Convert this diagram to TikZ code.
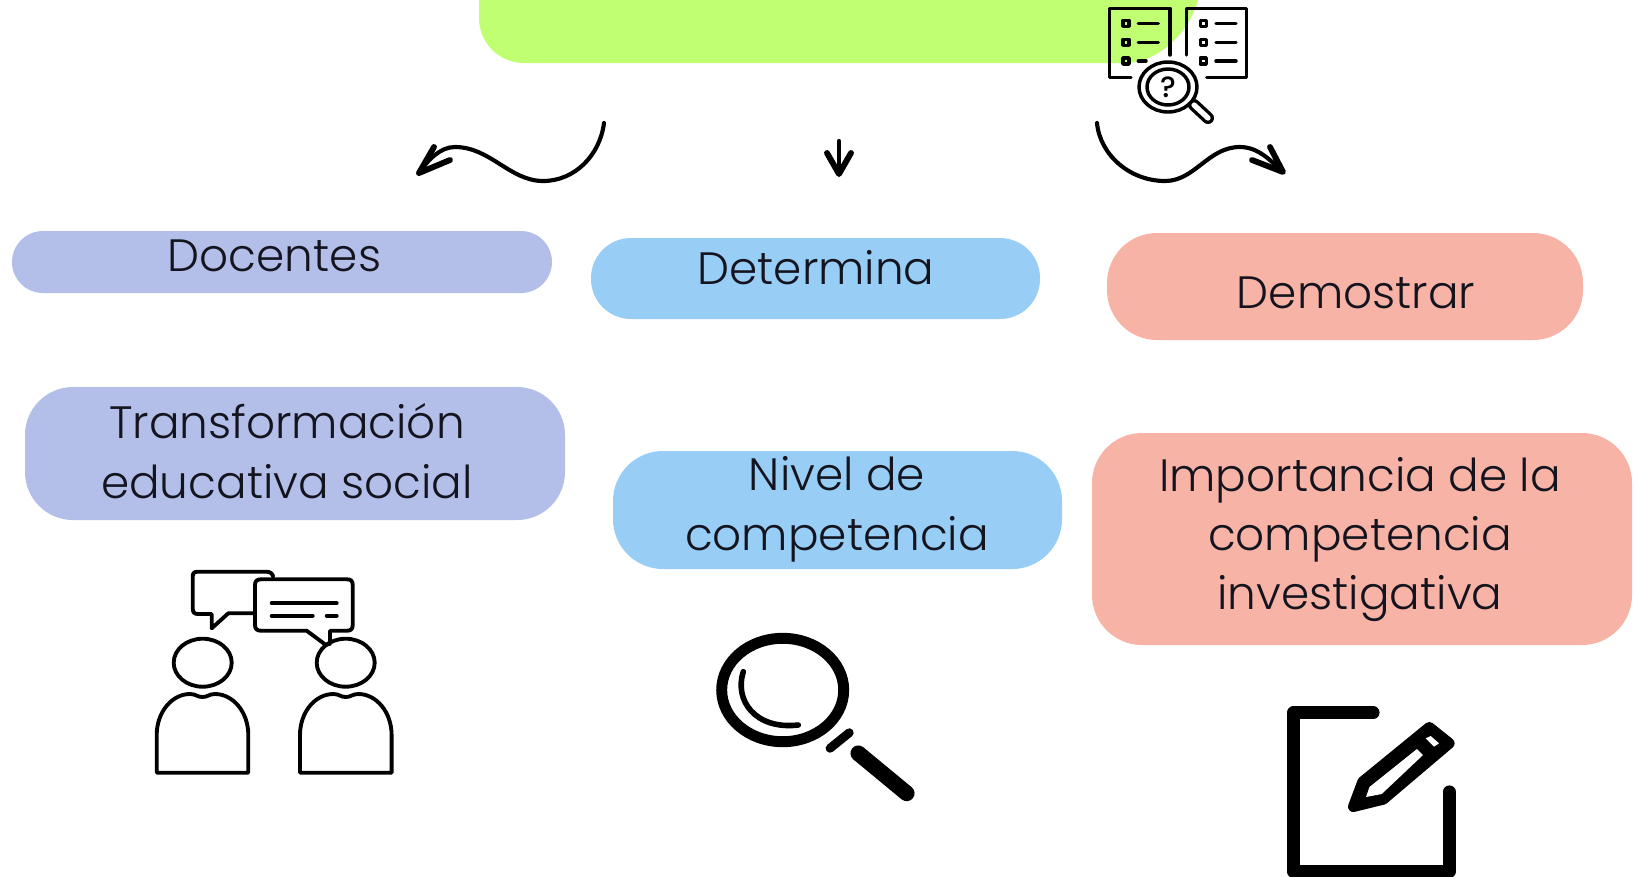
\documentclass[tikz,border=0pt]{standalone}
\usepackage{fontspec}
\setmainfont{Poppins}[UprightFont=* Light,BoldFont=* Medium]
\definecolor{limeC}{HTML}{C1FF72}
\definecolor{lilacC}{HTML}{B3BFE9}
\definecolor{skyC}{HTML}{98CDF5}
\definecolor{salmonC}{HTML}{F8B3A7}
\definecolor{inkC}{HTML}{14141F}
\tikzset{
  pill/.style n args={3}{inner sep=0pt,rounded corners=#3*0.75pt,minimum width=#1*0.75pt,minimum height=#2*0.75pt,draw=none},
  lbl/.style={anchor=base,inner sep=0pt,text=inkC,font=\fontsize{34}{34}\selectfont},
  squiggle/.style={line width=3.1pt,line cap=round,line join=round,black},
  tipstroke/.style={line width=4.4pt,line cap=round,line join=round,black},
  icon/.style={line width=2.9pt,line cap=round,line join=round,black},
  iconthin/.style={line width=2.6pt,line cap=round,line join=round,black},
  heavy/.style={line width=9.4pt,line cap=round,line join=round,black},
}
\begin{document}
\begin{tikzpicture}[x=0.75pt,y=-0.75pt]
\useasboundingbox (0,0) rectangle (1636,876);
\clip (0,0) rectangle (1636,876);
\fill[white] (0,0) rectangle (1636,876);
% top box
\fill[limeC] (479,-40) -- (479,18) .. controls (479,43) and (499,63) .. (524,63) -- (1125,63) .. controls (1160,63) and (1190,30) .. (1198,0) -- (1198,-40) -- cycle;
% boxes
\node[pill={540}{62}{31},fill=lilacC] (bdoc) at (282,262) {};
\node[pill={449}{81}{40},fill=skyC] (bdet) at (815.5,278.5) {};
\node[pill={476}{107}{50},fill=salmonC] (bdem) at (1345,286.5) {};
\node[pill={540}{133}{48},fill=lilacC] (btra) at (295,453.5) {};
\node[pill={449}{118}{50},fill=skyC] (bniv) at (837.5,510) {};
\node[pill={540}{212}{50},fill=salmonC] (bimp) at (1362,539) {};
% labels
\node[lbl] (t1) at (274.5,271) {Docentes};
\node[lbl] (t2) at (816,284) {Determina};
\node[lbl] (t3) at (1356,308) {Demostrar};
\node[lbl] (t4) at (287,438) {Transformación};
\node[lbl] (t5) at (287,498) {educativa social};
\node[lbl] (t6) at (837,490) {Nivel de};
\node[lbl] (t7) at (837,550) {competencia};
\node[lbl] (t8) at (1360,491) {Importancia de la};
\node[lbl] (t9) at (1360,550) {competencia};
\node[lbl] (t10) at (1360,609) {investigativa};
% arrows
\coordinate (las) at (604,123); \coordinate (lat) at (419,173);
\coordinate (cas) at (839,141); \coordinate (cat) at (839,174);
\coordinate (ras) at (1097,123); \coordinate (rat) at (1283,172);
\draw[squiggle] (las) .. controls (600,155) and (575,181) .. (543,181) .. controls (510,181) and (490,147) .. (455,147) .. controls (440,147) and (428,160) .. (lat);
\draw[tipstroke] (434,147) -- (lat) -- (450,160);
\draw[squiggle] (cas) -- (cat);
\draw[tipstroke] (827,153) -- (cat) -- (851,153);
\draw[squiggle] (ras) .. controls (1100,155) and (1130,181) .. (1165,181) .. controls (1195,181) and (1208,147) .. (1240,147) .. controls (1258,147) and (1270,160) .. (rat);
\draw[tipstroke] (1270,147) -- (rat) -- (1252,160);
% checklist icon
\draw[iconthin] (1131,77.3) -- (1109.3,77.3) -- (1109.3,8.3) -- (1170,8.3) -- (1170,55);
\draw[iconthin] (1186.7,55) -- (1186.7,8.3) -- (1246.7,8.3) -- (1246.7,77.3) -- (1206.7,77.3);
\foreach \yy in {23.3,42.3,61}{
  \draw[iconthin] (1123,\yy-3) rectangle (1129,\yy+3);
  \draw[iconthin] (1200.3,\yy-3) rectangle (1206.3,\yy+3);
  \draw[iconthin] (1216,\yy) -- (1236,\yy);
}
\draw[iconthin] (1138.3,23.3) -- (1158.3,23.3);
\draw[iconthin] (1138.3,42.3) -- (1158.3,42.3);
\draw[iconthin] (1138.3,61) -- (1146,61);
\draw[line width=9pt,line cap=round,black] (1194,105) -- (1208,118);
\draw[line width=4pt,line cap=round,white] (1194,105) -- (1208,118);
\draw[iconthin,fill=white] (1168,87) ellipse [x radius=29,y radius=25];
\draw[iconthin] (1168,87) ellipse [x radius=21,y radius=18];
\node[inner sep=0pt,text=black,font=\fontsize{22}{22}\selectfont\bfseries] (qm) at (1168,87) {?};
% people icon
\draw[icon] (253.3,613.3) -- (228.3,613.3) -- (211.7,628.3) -- (211.7,614) -- (198,614) .. controls (194,614) and (192.7,612) .. (192.7,608) -- (192.7,577) .. controls (192.7,573) and (194,571.7) .. (198,571.7) -- (266,571.7) .. controls (270,571.7) and (272,573) .. (273.3,576.7);
\draw[icon] (261,579.3) -- (347,579.3) .. controls (351,579.3) and (352.7,581) .. (352.7,585) -- (352.7,625) .. controls (352.7,629) and (351,630.7) .. (347,630.7) -- (330,630.7) -- (330,644) -- (325,644.3) -- (306.7,630.7) -- (261,630.7) .. controls (257,630.7) and (255,629) .. (255,625) -- (255,585) .. controls (255,581) and (257,579.3) .. (261,579.3) -- cycle;
\draw[icon] (271.7,603.3) -- (336.7,603.3);
\draw[icon] (271.7,615.7) -- (312.7,615.7);
\draw[icon] (326.7,615.7) -- (336.7,615.7);
\draw[icon] (202.7,662.7) ellipse [x radius=29,y radius=24];
\draw[icon] (345.7,662.7) ellipse [x radius=29,y radius=24];
\foreach \xx in {0,143.3}{
\draw[icon,shift={(\xx*0.75pt,0)}] (156.7,772.7) -- (156.7,735) .. controls (156.7,712) and (172,694) .. (190,694) .. controls (196,694) and (197,697) .. (202.5,697) .. controls (208,697) and (209,694) .. (215,694) .. controls (233,694) and (248.3,712) .. (248.3,735) -- (248.3,772.7) -- cycle;
}
% magnifier
\draw[line width=8.2pt,black] (782.7,690) ellipse [x radius=61,y radius=51.7];
\draw[line width=4.2pt,line cap=round,black] (743.3,671.7) .. controls (734,700) and (755,730) .. (798.3,725);
\draw[line width=6.6pt,line cap=round,black] (830,748.3) -- (849.3,732.7);
\draw[line width=11.8pt,line cap=round,black] (858.3,753.3) -- (906.7,793.3);
% pencil and sheet
\draw[heavy] (1373.3,712.7) -- (1293.3,712.7) -- (1293.3,871.7) -- (1449.3,871.7) -- (1449.3,791.7);
\draw[line width=8pt,line join=round,black,fill=black] (1429.3,727.3) -- (1449.3,743.3) -- (1383.3,799.3) -- (1353.3,806.7) -- (1362.7,781.7) -- cycle;
\fill[white] (1417,749) -- (1423,755) -- (1381.7,794) -- (1366,797) -- (1369.5,787) -- cycle;
\fill[white] (1425.7,738.3) -- (1430.7,736) -- (1439,743.3) -- (1434,746.7) -- cycle;
\end{tikzpicture}
\end{document}
